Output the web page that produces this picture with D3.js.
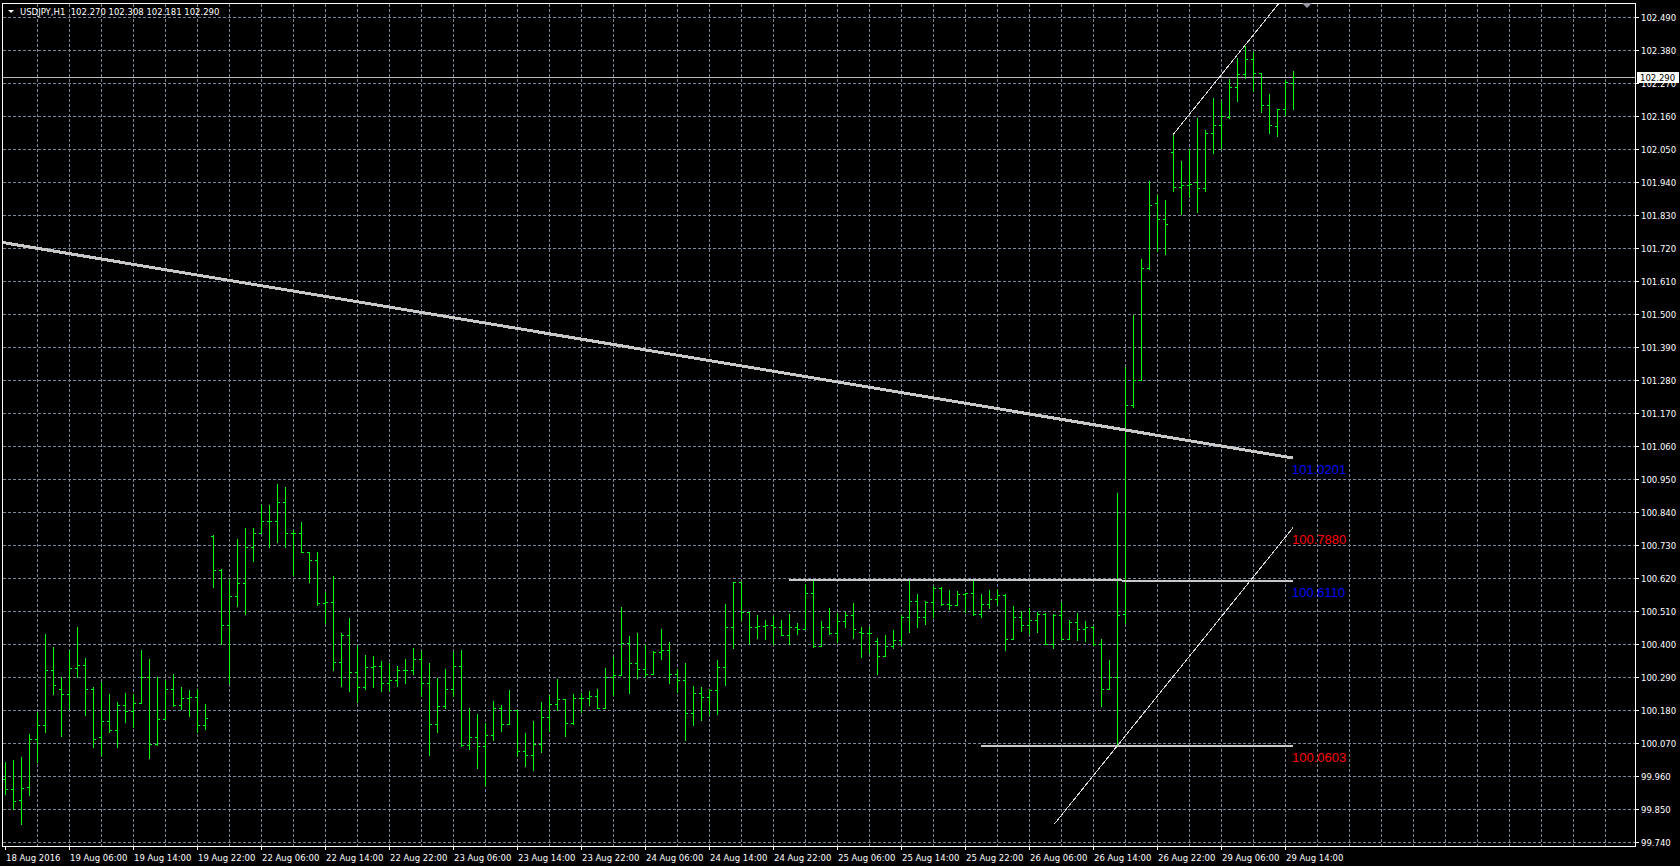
<!DOCTYPE html>
<html><head><meta charset="utf-8">
<script src="https://cdn.jsdelivr.net/npm/d3@7"></script>
<style>html,body{margin:0;padding:0;background:#000;overflow:hidden}svg{display:block}</style>
</head><body><svg id="c" width="1680" height="866"></svg>
<script>
// ---------------- DATA ----------------
const titleText = "USDJPY,H1  102.270 102.308 102.181 102.290";
const timeLabels = ["18 Aug 2016","19 Aug 06:00","19 Aug 14:00","19 Aug 22:00","22 Aug 06:00","22 Aug 14:00","22 Aug 22:00","23 Aug 06:00","23 Aug 14:00","23 Aug 22:00","24 Aug 06:00","24 Aug 14:00","24 Aug 22:00","25 Aug 06:00","25 Aug 14:00","25 Aug 22:00","26 Aug 06:00","26 Aug 14:00","26 Aug 22:00","29 Aug 06:00","29 Aug 14:00"];
const timeLabelBars = [0,8,16,24,32,40,48,56,64,72,80,88,96,104,112,120,128,136,144,152,160];
const priceTicks = ["102.490","102.380","102.270","102.160","102.050","101.940","101.830","101.720","101.610","101.500","101.390","101.280","101.170","101.060","100.950","100.840","100.730","100.620","100.510","100.400","100.290","100.180","100.070","99.960","99.850","99.740"];
const gridBars = [4,8,12,16,20,24,28,32,36,40,44,48,52,56,60,64,68,72,76,80,84,88,92,96,100,104,108,112,116,120,124,128,132,136,140,144,148,152,156,160,164,168,172,176,180,184,188,192,196,200];

const opens = [99.95,99.919,99.882,99.924,100.085,100.132,100.313,100.249,100.235,100.319,
100.329,100.252,100.091,100.144,100.113,100.196,100.176,100.205,100.289,100.066,
100.152,100.249,100.196,100.219,100.224,100.132,100.761,100.647,100.463,100.56,
100.604,100.722,100.769,100.81,100.81,100.872,100.769,100.771,100.706,100.68,
100.538,100.541,100.339,100.43,100.306,100.256,100.324,100.328,100.269,100.282,
100.313,100.313,100.352,100.269,100.133,100.194,100.252,100.327,100.063,100.091,
100.061,100.099,100.186,100.133,100.18,100.044,100.032,100.069,100.158,100.202,
100.216,100.136,100.219,100.222,100.227,100.186,100.289,100.297,100.404,100.338,
100.316,100.3,100.374,100.38,100.299,100.282,100.171,100.236,100.224,100.247,
100.324,100.456,100.606,100.506,100.458,100.46,100.463,100.458,100.43,100.456,
100.452,100.571,100.393,100.456,100.436,100.477,100.497,100.44,100.438,100.41,
100.36,100.393,100.413,100.491,100.544,100.491,100.541,100.586,100.533,100.53,
100.567,100.569,100.5,100.535,100.552,100.563,100.418,100.491,100.463,100.48,
100.502,100.402,100.497,100.416,100.474,100.449,100.458,100.4,100.252,100.291,
100.5,101.197,101.28,101.652,101.871,101.816,102.038,101.924,101.93,101.938,
101.919,102.104,102.13,102.156,102.256,102.3,102.349,102.302,102.197,102.127,
102.182,102.270];
const highs = [100.007,100.013,100.025,100.102,100.174,100.435,100.391,100.291,100.38,100.457,
100.355,100.257,100.274,100.235,100.208,100.238,100.235,100.38,100.352,100.291,
100.28,100.30,100.257,100.246,100.252,100.202,100.763,100.649,100.616,100.75,
100.786,100.786,100.863,100.863,100.933,100.924,100.78,100.806,100.708,100.708,
100.574,100.627,100.436,100.486,100.394,100.363,100.361,100.344,100.338,100.328,
100.35,100.386,100.378,100.338,100.288,100.316,100.374,100.382,100.189,100.169,
100.136,100.21,100.197,100.247,100.18,100.104,100.144,100.208,100.23,100.283,
100.218,100.235,100.238,100.244,100.25,100.322,100.356,100.524,100.427,100.436,
100.397,100.378,100.449,100.406,100.316,100.336,100.26,100.258,100.249,100.347,
100.533,100.608,100.608,100.506,100.497,100.482,100.493,100.482,100.502,100.471,
100.602,100.61,100.478,100.519,100.504,100.508,100.538,100.458,100.456,100.42,
100.43,100.447,100.497,100.61,100.567,100.544,100.593,100.589,100.582,100.578,
100.571,100.613,100.567,100.582,100.582,100.567,100.527,100.511,100.522,100.508,
100.504,100.5,100.541,100.48,100.504,100.478,100.46,100.418,100.347,100.904,
101.322,101.497,101.682,101.944,101.897,101.88,102.097,102.008,102.049,102.152,
102.111,102.219,102.208,102.282,102.352,102.393,102.374,102.302,102.233,102.182,
102.28,102.308];
const lows = [99.902,99.852,99.80,99.896,100.007,100.108,100.235,100.093,100.185,100.291,
100.163,100.057,100.03,100.108,100.057,100.141,100.124,100.204,100.022,100.063,
100.152,100.193,100.185,100.16,100.108,100.119,100.591,100.402,100.271,100.527,
100.502,100.678,100.769,100.724,100.741,100.724,100.63,100.706,100.608,100.53,
100.471,100.313,100.26,100.244,100.208,100.25,100.256,100.244,100.247,100.26,
100.269,100.302,100.227,100.03,100.108,100.189,100.227,100.06,100.052,99.986,
99.93,100.082,100.111,100.133,100.027,99.993,99.98,100.041,100.111,100.182,
100.093,100.133,100.174,100.197,100.186,100.186,100.23,100.297,100.236,100.286,
100.289,100.3,100.349,100.271,100.241,100.08,100.13,100.147,100.169,100.167,
100.263,100.386,100.482,100.404,100.419,100.416,100.402,100.43,100.402,100.433,
100.452,100.389,100.393,100.433,100.408,100.458,100.422,100.356,100.369,100.3,
100.36,100.386,100.397,100.441,100.458,100.467,100.489,100.53,100.516,100.53,
100.508,100.496,100.489,100.519,100.53,100.382,100.416,100.444,100.438,100.441,
100.402,100.386,100.416,100.416,100.413,100.411,100.396,100.193,100.249,100.0603,
100.469,101.191,101.28,101.649,101.708,101.70,101.908,101.833,101.889,101.841,
101.911,102.036,102.052,102.152,102.208,102.286,102.244,102.174,102.102,102.091,
102.163,102.181];
const closes = [99.919,99.878,99.922,100.085,100.132,100.313,100.265,100.235,100.319,100.329,
100.252,100.085,100.144,100.113,100.196,100.176,100.205,100.289,100.066,100.152,
100.249,100.196,100.219,100.224,100.132,100.155,100.647,100.463,100.56,100.604,
100.722,100.769,100.81,100.81,100.872,100.769,100.771,100.706,100.68,100.538,
100.541,100.339,100.43,100.306,100.256,100.324,100.328,100.269,100.282,100.313,
100.313,100.352,100.269,100.133,100.194,100.252,100.327,100.063,100.091,100.061,
100.099,100.186,100.133,100.18,100.044,100.032,100.069,100.158,100.202,100.216,
100.136,100.219,100.222,100.227,100.186,100.289,100.297,100.404,100.338,100.316,
100.3,100.374,100.38,100.3,100.282,100.171,100.236,100.224,100.247,100.324,
100.456,100.606,100.506,100.458,100.46,100.463,100.458,100.43,100.456,100.452,
100.571,100.393,100.456,100.436,100.477,100.497,100.45,100.438,100.438,100.36,
100.393,100.413,100.491,100.544,100.491,100.541,100.586,100.533,100.53,100.567,
100.569,100.5,100.535,100.552,100.563,100.418,100.491,100.463,100.48,100.502,
100.402,100.497,100.416,100.474,100.449,100.458,100.4,100.252,100.291,100.497,
101.197,101.28,101.652,101.863,101.816,101.8,101.924,101.93,101.933,101.919,
102.104,102.13,102.158,102.256,102.3,102.349,102.302,102.197,102.13,102.182,
102.271,102.290];

// drawn objects (bar index, price)
const longTrendBars = [-1, 161];
const longTrendPrices = [101.741, 101.0201];
const resistBars = [98, 161];
const resistPrices = [100.614, 100.611];
const supportBars = [122, 161];
const supportPrices = [100.0603, 100.0603];
const lowerChannelBars = [131.2, 161];
const lowerChannelPrices = [99.802, 100.788];
const upperChannelBars = [146, 161];
const upperChannelPrices = [102.097, 102.593];
const objectLabels = [
  {text:"101.0201", bar:161, price:101.0201, color:"#0000ff"},
  {text:"100.7880", bar:161, price:100.788, color:"#ff0000"},
  {text:"100.6110", bar:161, price:100.611, color:"#0000ff"},
  {text:"100.0603", bar:161, price:100.0603, color:"#ff0000"}
];
const bidPrice = 102.290;

// ---------------- LAYOUT ----------------
const W = 1680, H = 866;
const plotL = 2, plotT = 3, plotR = 1635, plotB = 846;
const svg = d3.select("#c");
svg.append("rect").attr("width", W).attr("height", H).attr("fill", "#000");

const x = d3.scaleLinear().domain([0, 161]).range([5, 5 + 8 * 161]);
const y = d3.scaleLinear().domain([99.74, 102.49]).range([842.3, 16.7]);
const px = v => Math.round(x(v));
const py = v => Math.round(y(v));

svg.append("defs").append("clipPath").attr("id", "plot")
  .append("rect").attr("x", plotL + 1).attr("y", plotT + 1)
  .attr("width", plotR - plotL - 1).attr("height", plotB - plotT - 1);

const gridColor = "#778899";
const g = svg.append("g").attr("shape-rendering", "crispEdges");

// horizontal grid
g.append("g").selectAll("line").data(priceTicks).join("line")
  .attr("x1", plotL + 1).attr("x2", plotR)
  .attr("y1", d => py(+d) + 0.5).attr("y2", d => py(+d) + 0.5)
  .attr("stroke", gridColor).attr("stroke-width", 1).attr("stroke-dasharray", "3,2");
// vertical grid
g.append("g").selectAll("line").data(gridBars).join("line")
  .attr("x1", d => px(d) + 0.5).attr("x2", d => px(d) + 0.5)
  .attr("y1", plotT + 1).attr("y2", plotB)
  .attr("stroke", gridColor).attr("stroke-width", 1).attr("stroke-dasharray", "3,2");

// bid line
g.append("line").attr("x1", plotL + 1).attr("x2", plotR)
  .attr("y1", py(bidPrice) + 0.5).attr("y2", py(bidPrice) + 0.5)
  .attr("stroke", "#b8b8c0").attr("stroke-width", 1);

// OHLC bars
const bars = d3.range(opens.length).map(i => ({i, o: opens[i], h: highs[i], l: lows[i], c: closes[i]}));
const barColor = "#00ff00";
const bg = g.append("g").attr("clip-path", "url(#plot)");
bg.selectAll("rect.hl").data(bars).join("rect").attr("class", "hl")
  .attr("x", d => px(d.i)).attr("width", 1)
  .attr("y", d => py(d.h)).attr("height", d => Math.max(1, py(d.l) - py(d.h) + 1))
  .attr("fill", barColor);
bg.selectAll("rect.op").data(bars).join("rect").attr("class", "op")
  .attr("x", d => px(d.i) - 2).attr("width", 2)
  .attr("y", d => py(d.o)).attr("height", 1).attr("fill", barColor);
bg.selectAll("rect.cl").data(bars).join("rect").attr("class", "cl")
  .attr("x", d => px(d.i) + 1).attr("width", 2)
  .attr("y", d => py(d.c)).attr("height", 1).attr("fill", barColor);

// trend objects
const obj = svg.append("g").attr("clip-path", "url(#plot)").attr("shape-rendering", "crispEdges");
const seg = (bs, ps, w, col) => obj.append("line")
  .attr("x1", x(bs[0])).attr("y1", y(ps[0])).attr("x2", x(bs[1])).attr("y2", y(ps[1]))
  .attr("stroke", col).attr("stroke-width", w);
seg(longTrendBars, longTrendPrices, 3, "#c8c8c8");
seg(resistBars, resistPrices, 2, "#c8c8c8");
seg(supportBars, supportPrices, 2, "#c8c8c8");
seg(lowerChannelBars, lowerChannelPrices, 1, "#d8d8d8");
seg(upperChannelBars, upperChannelPrices, 1, "#d8d8d8");

svg.append("g").selectAll("text").data(objectLabels).join("text")
  .attr("x", d => x(d.bar) - 1).attr("y", d => y(d.price) + 16)
  .attr("fill", d => d.color)
  .attr("font-family", "Liberation Sans, Arial, sans-serif").attr("font-size", 13)
  .text(d => d.text);

// frame
svg.append("rect").attr("x", plotL + 0.5).attr("y", plotT + 0.5)
  .attr("width", plotR - plotL).attr("height", plotB - plotT)
  .attr("fill", "none").attr("stroke", "#ffffff").attr("stroke-width", 1)
  .attr("shape-rendering", "crispEdges");

// price axis labels + ticks
const axisFont = "DejaVu Sans, Tahoma, sans-serif";
const pa = svg.append("g");
pa.selectAll("line").data(priceTicks).join("line")
  .attr("x1", plotR + 1).attr("x2", plotR + 4)
  .attr("y1", d => py(+d) + 0.5).attr("y2", d => py(+d) + 0.5)
  .attr("stroke", "#fff").attr("shape-rendering", "crispEdges");
pa.selectAll("text").data(priceTicks).join("text")
  .attr("x", plotR + 6).attr("y", d => py(+d) + 4)
  .attr("fill", "#fff").attr("font-family", axisFont).attr("font-size", 8.5)
  .text(d => d);

// bid price box
svg.append("rect").attr("x", plotR + 2).attr("y", py(bidPrice) - 5)
  .attr("width", 42).attr("height", 11).attr("fill", "#ffffff");
svg.append("text").attr("x", plotR + 5).attr("y", py(bidPrice) + 4)
  .attr("fill", "#000").attr("font-family", axisFont).attr("font-size", 8.5)
  .text(bidPrice.toFixed(3));

// time axis
const ta = svg.append("g");
ta.selectAll("line").data(timeLabelBars).join("line")
  .attr("x1", d => px(d) + 0.5).attr("x2", d => px(d) + 0.5)
  .attr("y1", plotB + 1).attr("y2", plotB + 4)
  .attr("stroke", "#fff").attr("shape-rendering", "crispEdges");
ta.selectAll("text").data(timeLabels).join("text")
  .attr("x", (d, k) => px(timeLabelBars[k]) + 1).attr("y", 861)
  .attr("fill", "#fff").attr("font-family", axisFont).attr("font-size", 8.5)
  .text(d => d);

// title
svg.append("path").attr("d", "M8,10 L14,10 L11,13 Z").attr("fill", "#fff");
svg.append("text").attr("x", 20).attr("y", 15)
  .attr("fill", "#fff").attr("font-family", axisFont).attr("font-size", 8.5)
  .attr("xml:space", "preserve").style("white-space", "pre")
  .text(titleText);

// chart shift marker
svg.append("path").attr("d", "M1302,3 L1312,3 L1307,8 Z").attr("fill", "#9a9aa6");
</script></body></html>
